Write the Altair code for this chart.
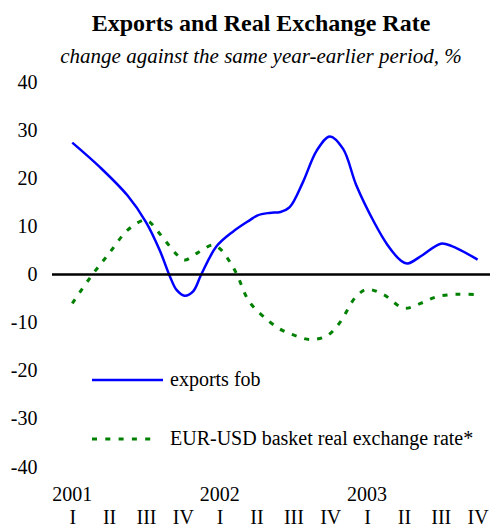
import altair as alt
import pandas as pd

FONT = "Liberation Serif"

title_text = "Exports and Real Exchange Rate"
subtitle_text = "change against the same year-earlier period, %"

quarters = ["I", "II", "III", "IV", "I", "II", "III", "IV", "I", "II", "III", "IV"]
years = ["2001", "2002", "2003"]
year_pos = [0, 4, 8]

# quarter index (0 = 2001 Q1) and values
exports_t = [0.0, 0.75, 1.5, 2.0, 2.37, 2.65, 2.83, 3.05, 3.28, 3.5, 3.91, 4.36, 4.82, 5.03,
             5.35, 5.65, 5.9, 6.26, 6.63, 6.99, 7.35, 7.71, 8.21, 8.55, 8.9, 9.1, 9.5, 10.0,
             10.3, 11.0]
exports_v = [27.4, 22.3, 16.4, 10.9, 5.1, -0.4, -3.2, -4.4, -3.5, 0.0, 5.8, 8.9, 11.3, 12.3,
             12.8, 13.0, 14.0, 19.2, 25.7, 28.7, 26.1, 18.5, 10.6, 6.2, 3.0, 2.3, 4.0, 6.4,
             5.9, 3.1]

rer_t = [0.0, 0.5, 1.0, 1.5, 1.95, 2.1, 2.33, 2.6, 2.87, 3.05, 3.4, 3.8, 4.0, 4.27, 4.47,
         4.8, 5.35, 5.7, 6.05, 6.45, 6.9, 7.25, 7.7, 8.0, 8.45, 9.0, 9.45, 9.9, 10.45, 11.0]
rer_v = [-6.0, -0.5, 4.4, 9.2, 11.3, 10.9, 8.9, 6.3, 3.9, 3.0, 4.5, 6.1, 5.4, 2.7, 0.0,
         -5.6, -9.8, -11.6, -12.7, -13.5, -12.8, -10.1, -4.6, -3.1, -4.2, -7.0, -6.0, -4.6,
         -4.1, -4.2]

series_names = ["exports fob", "EUR-USD basket real exchange rate*"]

df_exp = pd.DataFrame({"t": exports_t, "v": exports_v})
df_rer = pd.DataFrame({"t": rer_t, "v": rer_v})
df_years = pd.DataFrame({"t": year_pos, "label": years})
df_zero = pd.DataFrame({"v": [0]})
df_leg1 = pd.DataFrame({"label": [series_names[0]]})
df_leg2 = pd.DataFrame({"label": [series_names[1]]})
df_title = pd.DataFrame({"label": [title_text]})
df_sub = pd.DataFrame({"label": [subtitle_text]})

xscale = alt.Scale(domain=[-0.55, 11.336], nice=False, zero=False)
yscale = alt.Scale(domain=[-40, 40], nice=False, zero=False)

label_expr = "[" + ",".join("'%s'" % q for q in quarters) + "][datum.value]"

xaxis = alt.Axis(values=list(range(12)), labelExpr=label_expr, title=None, domain=False,
                 ticks=False, grid=False, labelPadding=56, labelBaseline="alphabetic",
                 labelFont=FONT, labelFontSize=20, labelColor="black", labelFlush=False,
                 labelOverlap=False)
yaxis = alt.Axis(values=list(range(-40, 41, 10)), title=None, domain=False, ticks=False,
                 grid=False, labelPadding=15, labelFont=FONT, labelFontSize=20,
                 labelColor="black",
                 labelExpr="datum.value < 0 ? '-' + abs(datum.value) : '' + datum.value")

X = alt.X("t:Q", scale=xscale, axis=xaxis)
Y = alt.Y("v:Q", scale=yscale, axis=yaxis)

exports = alt.Chart(df_exp).mark_line(color="#0000FF", strokeWidth=2.5,
                                      interpolate="catmull-rom").encode(x=X, y=Y)

rer = alt.Chart(df_rer).mark_line(color="#008000", strokeWidth=3, strokeDash=[5, 8],
                                  interpolate="catmull-rom").encode(x=X, y=Y)

zero = alt.Chart(df_zero).mark_rule(color="black", strokeWidth=2.5).encode(y=Y)

year_text = alt.Chart(df_years).mark_text(font=FONT, fontSize=20, color="black",
                                          baseline="alphabetic", align="center").encode(
    x=X,
    y=alt.value(419),
    text="label:N",
)

leg1_line = alt.Chart(df_leg1).mark_rule(color="#0000FF", strokeWidth=2.5).encode(
    x=alt.value(40), x2=alt.value(111), y=alt.value(298)
)
leg1_text = alt.Chart(df_leg1).mark_text(font=FONT, fontSize=20, color="black",
                                         align="left", baseline="middle").encode(
    x=alt.value(118), y=alt.value(298), text="label:N"
)
leg2_line = alt.Chart(df_leg2).mark_rule(color="#008000", strokeWidth=3,
                                         strokeDash=[5, 8.3]).encode(
    x=alt.value(40), x2=alt.value(106), y=alt.value(357)
)
leg2_text = alt.Chart(df_leg2).mark_text(font=FONT, fontSize=20, color="black",
                                         align="left", baseline="middle").encode(
    x=alt.value(118), y=alt.value(357), text="label:N"
)

title_mark = alt.Chart(df_title).mark_text(font=FONT, fontSize=24, fontWeight="bold",
                                           color="black", align="center",
                                           baseline="alphabetic").encode(
    x=alt.value(209), y=alt.value(-51), text="label:N"
)
sub_mark = alt.Chart(df_sub).mark_text(font=FONT, fontSize=21, fontStyle="italic",
                                       color="black", align="center",
                                       baseline="alphabetic").encode(
    x=alt.value(209), y=alt.value(-19), text="label:N"
)

chart = alt.layer(
    exports, zero, rer, year_text, leg1_line, leg1_text, leg2_line, leg2_text,
    title_mark, sub_mark
).properties(
    width=438, height=385,
    autosize=alt.AutoSizeParams(type="none"),
    padding={"left": 44, "top": 74, "right": 0, "bottom": 61},
).configure_view(stroke=None)

chart.save("out.html", embed_options={"renderer": "svg", "actions": False})
